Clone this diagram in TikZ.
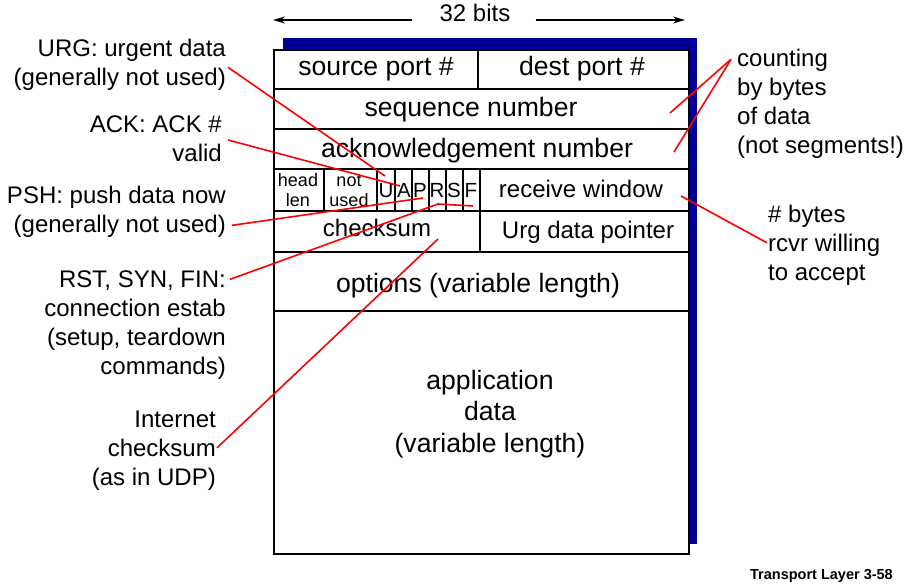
\documentclass[tikz,border=0pt]{standalone}
\usepackage{fontspec}
\setmainfont{Liberation Sans}
\usetikzlibrary{arrows.meta}
\definecolor{shadowblue}{RGB}{0,0,153}
\definecolor{callred}{RGB}{255,0,0}
\begin{document}
\begin{tikzpicture}[x=1pt,y=-1pt,
  big/.style={font=\fontsize{26.6}{31.5}\selectfont, inner sep=0pt, anchor=base},
  mid/.style={font=\fontsize{24}{29}\selectfont, inner sep=0pt, anchor=base},
  lbl/.style={font=\fontsize{24}{29}\selectfont, inner sep=0pt},
  flag/.style={font=\fontsize{20.5}{24}\selectfont, inner sep=0pt, anchor=base},
  cell/.style={font=\fontsize{18}{20}\selectfont, inner sep=0pt, anchor=north, align=center},
  grid/.style={draw=black, line width=2pt},
  call/.style={draw=callred, line width=1.6pt},
  dim/.style={line width=1.4pt, -{Stealth[length=12pt,width=7pt]}},
]
\useasboundingbox (0,0) rectangle (912,588);

% shadow and box
\fill[shadowblue] (283,38) rectangle (697,544);
\draw[grid, fill=white] (274,50) rectangle (689,554);
\foreach \y in {89,129,169,211,252,311} \draw[grid] (274,\y) -- (689,\y);
\draw[grid] (478,50) -- (478,89);
\foreach \x in {324,377,395,412,429,446,463,480} \draw[grid] (\x,169) -- (\x,211);
\draw[grid] (480,211) -- (480,252);

% width arrow
\node[mid] (bits) at (475,22) {32 bits};
\coordinate (bitsL) at (273,20);
\coordinate (bitsR) at (685,20);
\draw[dim] ([shift={(-27,-2)}]bits.base west) -- (bitsL);
\draw[dim] ([shift={(25,-2)}]bits.base east) -- (bitsR);

% fields
\node[big] (src) at (376,76) {source port \#};
\node[big] (dst) at (582,76) {dest port \#};
\node[big] (seq) at (471,117) {sequence number};
\node[big] (ack) at (477,158) {acknowledgement number};
\node[cell] (hl) at (298,172) {\strut head\\len};
\node[cell] (nu) at (349,172) {\strut not\\used};
\node[flag] (fu) at (386,197) {U};
\node[flag] (fa) at (404,197) {A};
\node[flag] (fp) at (420,197) {P};
\node[flag] (fr) at (437,197) {R};
\node[flag] (fs) at (454,197) {S};
\node[flag] (ff) at (471,197) {F};
\node[mid] (rw) at (581,197) {receive window};
\node[mid] (cs) at (377,236) {checksum};
\node[mid] (udp) at (588,238) {Urg data pointer};
\node[big] (opt) at (478,292) {options (variable length)};
\node[big, anchor=north, align=center] (app) at (490,367) {\strut application\\data\\(variable length)};

% left labels
\node[lbl, anchor=north east, align=right] (urg) at (226,36) {\strut URG: urgent data\\(generally not used)};
\node[lbl, anchor=north east, align=right] (ackl) at (222,112) {\strut ACK: ACK \#\\valid};
\node[lbl, anchor=north east, align=right] (psh) at (226,183) {\strut PSH: push data now\\(generally not used)};
\node[lbl, anchor=north east, align=right] (rst) at (226,267) {\strut RST, SYN, FIN:\\connection estab\\(setup, teardown\\commands)};
\node[lbl, anchor=north east, align=right] (inet) at (216,407) {\strut Internet\\checksum\\(as in UDP)};

% right labels
\node[lbl, anchor=north west, align=left] (cnt) at (737,46) {\strut counting\\by bytes\\of data\\(not segments!)};
\node[lbl, anchor=north west, align=left] (byt) at (768,202) {\strut \# bytes\\rcvr willing\\to accept};

% callout ends
\coordinate (urgE) at (385,176);
\coordinate (ackE) at (400,186);
\coordinate (pshE) at (423,198);
\coordinate (rstM) at (438,204);
\coordinate (rstE) at (473,206);
\coordinate (csE) at (438,239);
\coordinate (seqE) at (670,113);
\coordinate (ackNE) at (674,152);
\coordinate (rwE) at (681,196);

\draw[call] ([shift={(2,4)}]urg.east) -- (urgE);
\draw[call] ([shift={(6,3)}]ackl.east) -- (ackE);
\draw[call] ([shift={(6,15)}]psh.east) -- (pshE);
\draw[call] ([shift={(4,-44)}]rst.east) -- (rstM) -- (rstE);
\draw[call] ([shift={(1,-1)}]inet.east) -- (csE);
\draw[call] ([shift={(-6,-43)}]cnt.west) -- (seqE);
\draw[call] ([shift={(-6,-43)}]cnt.west) -- (ackNE);
\draw[call] ([shift={(-1,-1)}]byt.west) -- (rwE);

% footer
\node[font=\bfseries\fontsize{14.5}{17}\selectfont, inner sep=0pt, anchor=base east] (foot) at (893,579) {Transport Layer 3-58};
\end{tikzpicture}
\end{document}
